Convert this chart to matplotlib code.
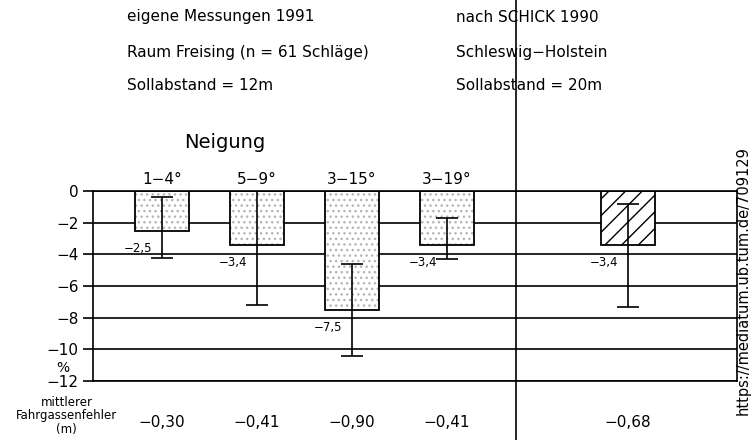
import matplotlib.pyplot as plt

# values
categories = ['1−4°', '5−9°', '3−15°', '3−19°']
values = [-2.5, -3.4, -7.5, -3.4]
err_top = [-0.4, 0.0, -4.6, -1.7]
err_bottom = [-4.2, -7.2, -10.4, -4.3]
fahrgassen = ['−0,30', '−0,41', '−0,90', '−0,41']

schick_value = -3.4
schick_err_top = -0.8
schick_err_bottom = -7.3
schick_fahrgassen = '−0,68'

yticks = [0, -2, -4, -6, -8, -10, -12]


def fmt(v):
    return f'{v:.1f}'.replace('.', ',').replace('-', '−')


fig = plt.figure(figsize=(7.51, 4.40), dpi=100)
ax = fig.add_axes([0.1238, 0.1341, 0.8575, 0.4318])

x = list(range(len(categories)))
x_schick = 4.9
width = 0.57

ax.set_xlim(-0.726, 6.05)
ax.set_ylim(-12, 0)
ax.set_yticks(yticks)
ax.set_yticklabels([str(t).replace('-', '−') for t in yticks], fontsize=11)
ax.set_xticks([])
ax.tick_params(axis='y', direction='out', length=7.2, width=1.2, pad=3)
ax.yaxis.grid(True, color='black', lw=1.2)
ax.set_axisbelow(True)
for s in ax.spines.values():
    s.set_linewidth(1.2)

# dotted bars (own measurements)
ax.bar(x, values, width=width, color='white', edgecolor='#b5b5b5',
       hatch='...', lw=0, zorder=2)
ax.bar(x, values, width=width, fill=False, edgecolor='black', lw=1.3, zorder=3)

# hatched bar (SCHICK)
ax.bar([x_schick], [schick_value], width=width, color='white', edgecolor='black',
       hatch='//', lw=1.3, zorder=2)

all_x = x + [x_schick]
tops = err_top + [schick_err_top]
bottoms = err_bottom + [schick_err_bottom]
mids = [(a + b) / 2 for a, b in zip(tops, bottoms)]
half = [(a - b) / 2 for a, b in zip(tops, bottoms)]
ax.errorbar(all_x, mids, yerr=half, fmt='none', ecolor='black',
            elinewidth=1.2, capsize=8, capthick=1.2, zorder=4)

# value labels
for xi, v in zip(all_x, values + [schick_value]):
    ax.text(xi - 0.25, v - 1.1, fmt(v), ha='center', va='center',
            fontsize=8.5, zorder=5)

# category labels above bars
for xi, c in zip(x, categories):
    ax.text(xi, 0.75, c, ha='center', va='center', fontsize=11, clip_on=False)
ax.text(0.66, 3.05, 'Neigung', ha='center', va='center', fontsize=14)

# mittlerer Fahrgassenfehler row
for xi, f in zip(all_x, fahrgassen + [schick_fahrgassen]):
    ax.text(xi, -14.6, f, ha='center', va='center', fontsize=11, clip_on=False)
fig.text(0.089, 0.055, 'mittlerer\nFahrgassenfehler\n(m)', ha='center', va='center',
         fontsize=8.5, linespacing=1.05)
fig.text(0.084, 0.164, '%', ha='center', va='center', fontsize=10)

# divider between the two data sources
ax.axvline(3.73, ymin=-0.32, ymax=2.02, color='black', lw=1.2, clip_on=False)

# header texts
fig.text(127 / 751, 1 - 17 / 440, 'eigene Messungen 1991', fontsize=11, va='center')
fig.text(127 / 751, 1 - 52 / 440, 'Raum Freising (n = 61 Schläge)', fontsize=11, va='center')
fig.text(127 / 751, 1 - 86 / 440, 'Sollabstand = 12m', fontsize=11, va='center')
fig.text(456 / 751, 1 - 17 / 440, 'nach SCHICK 1990', fontsize=11, va='center')
fig.text(456 / 751, 1 - 52 / 440, 'Schleswig−Holstein', fontsize=11, va='center')
fig.text(456 / 751, 1 - 86 / 440, 'Sollabstand = 20m', fontsize=11, va='center')

fig.text(743.5 / 751, 1 - 415 / 440, 'https://mediatum.ub.tum.de/709129', rotation=90,
         ha='center', va='bottom', fontsize=10.5)

fig.savefig('out.png', dpi=100)
